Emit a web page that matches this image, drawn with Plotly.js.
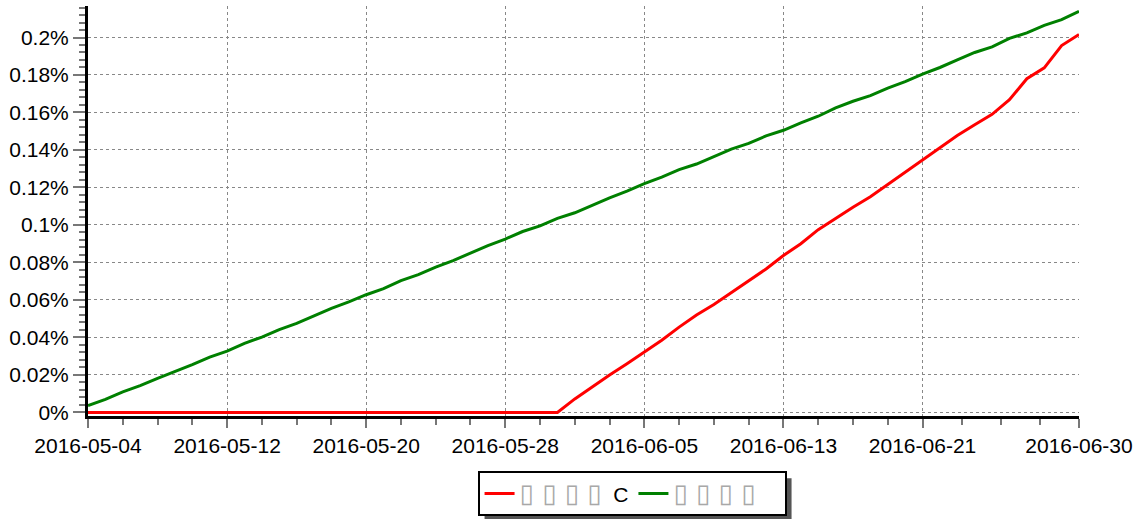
<!DOCTYPE html>
<html>
<head>
<meta charset="utf-8">
<script src="https://cdn.plot.ly/plotly-3.0.1.min.js"></script>
<style>html,body{margin:0;padding:0;background:#fff;}#chart{width:1138px;height:519px;}</style>
</head>
<body>
<div id="chart"></div>
<script>
// ---- data (values in percent) ----
const startDate = '2016-05-04';
const dayCount = 58;
const BOXES = '<span style="color:#a8a8a8;font-family:DejaVu Sans;font-size:26px">▯\u00a0▯\u00a0▯\u00a0▯</span>';
const seriesNames = [
  BOXES + '\u00a0\u00a0C',
  BOXES + '\u00a0\u00a0\u00a0\u00a0'
];
const redValues = [
  0,0,0,0,0,0,0,0,0,0,0,0,0,0,0,0,0,0,0,0,0,0,0,0,0,0,0,0,
  0.0072,0.0138,0.020,0.026,0.0322,0.0385,0.0455,0.052,0.0576,0.064,
  0.070,0.0765,0.0837,0.090,0.0975,0.1035,0.1095,0.115,0.1215,0.128,
  0.1344,0.141,0.1477,0.1535,0.159,0.1668,0.178,0.1838,0.1957,0.2016
];
const greenValues = [
  0.0037,0.007,0.011,0.0143,0.0182,0.0217,0.0255,0.0295,0.0327,0.0368,
  0.0402,0.0442,0.0475,0.0515,0.0555,0.059,0.0628,0.066,0.0703,0.0735,
  0.0775,0.081,0.085,0.089,0.0925,0.0965,0.0995,0.1035,0.1065,0.1105,
  0.1145,0.118,0.122,0.1255,0.1295,0.1325,0.1365,0.1405,0.1435,0.1475,
  0.1505,0.1545,0.158,0.1625,0.166,0.169,0.173,0.1765,0.1805,0.184,
  0.188,0.192,0.195,0.1995,0.2025,0.2065,0.2095,0.214
];
const xTickVals = ['2016-05-04','2016-05-12','2016-05-20','2016-05-28','2016-06-05','2016-06-13','2016-06-21','2016-06-30'];

// ---- build dates ----
const dates = [];
const t0 = Date.parse(startDate + 'T00:00:00Z');
for (let i = 0; i < dayCount; i++) {
  dates.push(new Date(t0 + i * 86400000).toISOString().slice(0, 10));
}
// minor ticks: 4 equal subdivisions between major ticks
const minorVals = [];
for (let i = 0; i < xTickVals.length - 1; i++) {
  const a = Date.parse(xTickVals[i] + 'T00:00:00Z');
  const b = Date.parse(xTickVals[i + 1] + 'T00:00:00Z');
  for (let k = 1; k < 4; k++) {
    const t = new Date(a + (b - a) * k / 4).toISOString();
    minorVals.push(t.slice(0, 10) + ' ' + t.slice(11, 16));
  }
}

const FONT = 'Liberation Sans, Arial, sans-serif';
const traces = [
  {x: dates, y: redValues, name: seriesNames[0], type: 'scatter', mode: 'lines',
   line: {color: '#ff0000', width: 3}},
  {x: dates, y: greenValues, name: seriesNames[1], type: 'scatter', mode: 'lines',
   line: {color: '#008000', width: 3}}
];

const layout = {
  width: 1138, height: 519,
  margin: {l: 88, r: 59, t: 6, b: 103, autoexpand: false},
  paper_bgcolor: '#fff', plot_bgcolor: '#fff',
  font: {family: FONT, size: 21, color: '#000'},
  showlegend: true,
  legend: {
    orientation: 'h', x: 0.549, xanchor: 'center', y: -0.135, yanchor: 'top',
    bgcolor: '#fff', bordercolor: '#000', borderwidth: 2,
    font: {family: FONT, size: 21, color: '#000'},
    itemwidth: 30, tracegroupgap: 0
  },
  xaxis: {
    type: 'date',
    range: ['2016-05-04', '2016-06-30'],
    tickmode: 'array', tickvals: xTickVals, tickformat: '%Y-%m-%d',
    ticks: 'outside', ticklen: 9, tickwidth: 2, tickcolor: '#777',
    showline: true, linecolor: '#000', linewidth: 3,
    showgrid: true, gridcolor: '#888', griddash: 'dot', gridwidth: 1,
    zeroline: false,
    minor: {tickmode: 'array', tickvals: minorVals, ticks: 'outside', ticklen: 6, tickwidth: 2, tickcolor: '#777', showgrid: false},
    tickfont: {family: FONT, size: 21, color: '#000'}
  },
  yaxis: {
    range: [-0.0019, 0.2168],
    tick0: 0, dtick: 0.02, ticksuffix: '%',
    ticks: 'outside', ticklen: 12, tickwidth: 2, tickcolor: '#777',
    showline: true, linecolor: '#000', linewidth: 3,
    showgrid: true, gridcolor: '#888', griddash: 'dot', gridwidth: 1,
    zeroline: false,
    minor: {dtick: 0.004, ticks: 'outside', ticklen: 6, tickwidth: 2, tickcolor: '#777', showgrid: false},
    tickfont: {family: FONT, size: 21, color: '#000'}
  }
};

Plotly.newPlot('chart', traces, layout, {displayModeBar: false, staticPlot: true}).then(function(gd){
  // legend drop shadow measured from the rendered legend box
  const bg = gd.querySelector('.legend .bg');
  if (bg) {
    const r = bg.getBoundingClientRect();
    const fs = gd._fullLayout._size;
    const px2x = function(px){ return (px - fs.l) / fs.w; };
    const py2y = function(py){ return 1 - (py - fs.t) / fs.h; };
    Plotly.relayout(gd, {shapes: [{
      type: 'rect', xref: 'paper', yref: 'paper', layer: 'above',
      x0: px2x(r.left + 6), x1: px2x(r.right + 6),
      y0: py2y(r.top + 6), y1: py2y(r.bottom + 6),
      fillcolor: '#555', line: {width: 0}
    }]});
  }
});
</script>
</body>
</html>
